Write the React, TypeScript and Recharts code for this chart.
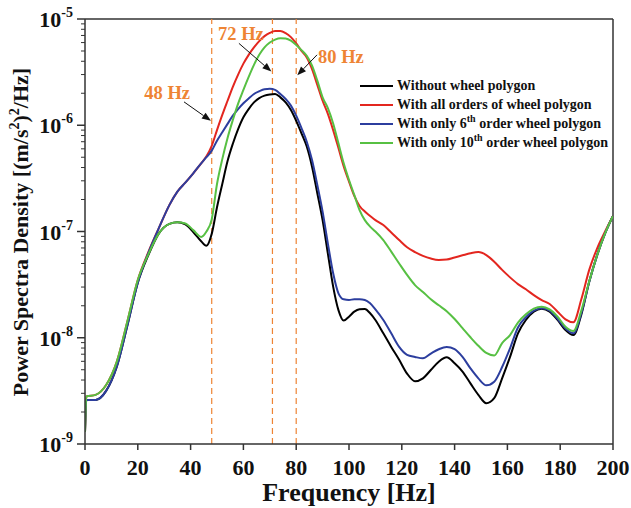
import { Line, LineChart, ReferenceLine, XAxis, YAxis } from "recharts";

const FONT = '"Liberation Serif", "Times New Roman", serif';
const ORANGE = "#EE8434";

// Frequency grid [Hz]
const FREQ = [
  0, 0.5, 4, 8, 12, 16, 20, 24, 28, 32, 35, 38, 41, 44, 46, 48, 50, 52, 54, 56,
  58, 60, 62, 64, 66, 68, 70, 72, 74, 76, 78, 80, 82, 84, 86, 88, 90, 92, 94, 96,
  98, 100, 102, 104, 106, 108, 110, 113, 116, 119, 122, 125, 128, 131, 134, 137, 140, 143, 146, 149,
  152, 155, 158, 161, 164, 167, 170, 173, 176, 179, 182, 185, 188, 191, 194, 197, 200,
];

// PSD [(m/s^2)^2/Hz]
const WITHOUT = [
  1.3e-9, 2.6e-9, 2.6e-9, 3.16e-9, 5.3e-9, 1.29e-8, 3.3e-8, 6.0e-8, 9.6e-8, 1.18e-7, 1.22e-7, 1.17e-7, 9.9e-8, 8.1e-8, 7.35e-8, 9.5e-8, 1.69e-7, 2.8e-7, 4.6e-7, 6.7e-7,
  9.2e-7, 1.19e-6, 1.42e-6, 1.64e-6, 1.8e-6, 1.9e-6, 1.95e-6, 1.97e-6, 1.83e-6, 1.64e-6, 1.39e-6, 1.1e-6, 8.4e-7, 6.3e-7, 4.07e-7, 2.29e-7, 1.28e-7, 6.2e-8, 3.03e-8, 1.82e-8,
  1.45e-8, 1.58e-8, 1.76e-8, 1.85e-8, 1.86e-8, 1.7e-8, 1.47e-8, 1.1e-8, 8.2e-9, 6.2e-9, 4.6e-9, 3.9e-9, 4.15e-9, 4.97e-9, 5.95e-9, 6.55e-9, 5.75e-9, 4.8e-9, 3.72e-9, 2.9e-9,
  2.42e-9, 2.7e-9, 4.15e-9, 6.6e-9, 1.1e-8, 1.47e-8, 1.76e-8, 1.87e-8, 1.76e-8, 1.47e-8, 1.18e-8, 1.06e-8, 1.65e-8, 3.37e-8, 6.0e-8, 9.6e-8, 1.4e-7,
];
const ALL_ORDERS = [
  1.3e-9, 2.8e-9, 2.9e-9, 3.59e-9, 5.9e-9, 1.41e-8, 3.5e-8, 6.4e-8, 1.08e-7, 1.78e-7, 2.37e-7, 2.88e-7, 3.53e-7, 4.38e-7, 5.1e-7, 6.4e-7, 9.0e-7, 1.25e-6, 1.7e-6, 2.3e-6,
  3.0e-6, 3.8e-6, 4.6e-6, 5.4e-6, 6.2e-6, 6.9e-6, 7.4e-6, 7.7e-6, 7.7e-6, 7.35e-6, 6.75e-6, 5.9e-6, 5.0e-6, 4.35e-6, 3.38e-6, 2.4e-6, 1.7e-6, 1.28e-6, 9.0e-7, 6.1e-7,
  4.1e-7, 2.95e-7, 2.16e-7, 1.74e-7, 1.54e-7, 1.4e-7, 1.28e-7, 1.15e-7, 9.8e-8, 8.3e-8, 7.1e-8, 6.4e-8, 5.9e-8, 5.57e-8, 5.4e-8, 5.45e-8, 5.7e-8, 5.97e-8, 6.24e-8, 6.4e-8,
  6.0e-8, 5.2e-8, 4.35e-8, 3.7e-8, 3.2e-8, 2.86e-8, 2.52e-8, 2.26e-8, 2.08e-8, 1.76e-8, 1.49e-8, 1.4e-8, 2.3e-8, 4.35e-8, 6.95e-8, 1.0e-7, 1.4e-7,
];
const ONLY_6TH = [
  1.3e-9, 2.6e-9, 2.6e-9, 3.16e-9, 5.3e-9, 1.29e-8, 3.3e-8, 6.3e-8, 1.08e-7, 1.78e-7, 2.37e-7, 2.88e-7, 3.53e-7, 4.38e-7, 5.0e-7, 5.77e-7, 7.16e-7, 8.6e-7, 1.03e-6, 1.23e-6,
  1.42e-6, 1.61e-6, 1.79e-6, 1.97e-6, 2.09e-6, 2.18e-6, 2.2e-6, 2.15e-6, 1.97e-6, 1.77e-6, 1.53e-6, 1.23e-6, 9.4e-7, 7.0e-7, 4.7e-7, 2.74e-7, 1.54e-7, 7.7e-8, 4.04e-8, 2.62e-8,
  2.3e-8, 2.27e-8, 2.3e-8, 2.3e-8, 2.27e-8, 2.11e-8, 1.85e-8, 1.47e-8, 1.1e-8, 8.2e-9, 6.9e-9, 6.6e-9, 6.4e-9, 7.1e-9, 7.8e-9, 8.2e-9, 7.8e-9, 6.6e-9, 5.15e-9, 4.15e-9,
  3.57e-9, 3.86e-9, 5.3e-9, 7.96e-9, 1.25e-8, 1.56e-8, 1.8e-8, 1.9e-8, 1.8e-8, 1.51e-8, 1.22e-8, 1.1e-8, 1.7e-8, 3.37e-8, 6.0e-8, 9.6e-8, 1.4e-7,
];
const ONLY_10TH = [
  1.3e-9, 2.8e-9, 2.9e-9, 3.59e-9, 5.9e-9, 1.41e-8, 3.5e-8, 6.1e-8, 9.6e-8, 1.18e-7, 1.22e-7, 1.19e-7, 1.03e-7, 8.9e-8, 1.0e-7, 1.3e-7, 2.8e-7, 4.8e-7, 7.6e-7, 1.12e-6,
  1.6e-6, 2.15e-6, 2.85e-6, 3.7e-6, 4.6e-6, 5.4e-6, 6.0e-6, 6.4e-6, 6.6e-6, 6.55e-6, 6.25e-6, 5.7e-6, 5.1e-6, 4.5e-6, 3.64e-6, 2.63e-6, 1.83e-6, 1.45e-6, 1.04e-6, 6.76e-7,
  4.38e-7, 3.05e-7, 2.21e-7, 1.59e-7, 1.28e-7, 1.11e-7, 1.0e-7, 8.3e-8, 6.46e-8, 5.0e-8, 3.9e-8, 3.13e-8, 2.7e-8, 2.3e-8, 2.02e-8, 1.78e-8, 1.5e-8, 1.23e-8, 1.01e-8, 8.4e-9,
  7.2e-9, 6.8e-9, 8.9e-9, 1.06e-8, 1.39e-8, 1.66e-8, 1.88e-8, 1.96e-8, 1.85e-8, 1.58e-8, 1.27e-8, 1.16e-8, 1.8e-8, 3.4e-8, 6.0e-8, 9.6e-8, 1.4e-7,
];

const X_TICKS = [0, 20, 40, 60, 80, 100, 120, 140, 160, 180, 200];
const Y_MAJOR = [1e-9, 1e-8, 1e-7, 1e-6, 1e-5];
const Y_TICKS = Y_MAJOR.flatMap((d, i) =>
  i < Y_MAJOR.length - 1 ? [d, 2 * d, 3 * d, 4 * d, 5 * d, 6 * d, 7 * d, 8 * d, 9 * d] : [d]
);
const MARKED_FREQ = [48, 71, 80];

const SERIES = [
  { key: "without", color: "#000000", values: WITHOUT },
  { key: "all", color: "#E3261F", values: ALL_ORDERS },
  { key: "sixth", color: "#2C3E9E", values: ONLY_6TH },
  { key: "tenth", color: "#57C043", values: ONLY_10TH },
];

const data = FREQ.map((f, i) => {
  const row: Record<string, number> = { f };
  SERIES.forEach((s) => (row[s.key] = s.values[i]));
  return row;
});

// arrows: [start, end] in data coords, with label placement
const ARROWS = [
  { text: "48 Hz", from: { x: 37.5, y: 1.66e-6 }, to: { x: 47.7, y: 1.1e-6 }, dx: 6, dy: -3, anchor: "end" },
  { text: "72 Hz", from: { x: 58.3, y: 5.9e-6 }, to: { x: 70.6, y: 3.2e-6 }, dx: 2, dy: -3, anchor: "middle" },
  { text: "80 Hz", from: { x: 87.9, y: 4.6e-6 }, to: { x: 80.4, y: 2.95e-6 }, dx: 1, dy: 8, anchor: "start" },
];

function XTick({ x, y, payload }: any) {
  return (
    <g>
      <line x1={x} y1={y} x2={x} y2={y + 6} stroke="#333" strokeWidth={1.5} />
      <text x={x} y={y + 31} textAnchor="middle" fontFamily={FONT} fontWeight="bold" fontSize={22} fill="#111">
        {payload.value}
      </text>
    </g>
  );
}

function YTick({ x, y, payload }: any) {
  const lg = Math.log10(payload.value);
  const major = Math.abs(lg - Math.round(lg)) < 1e-6;
  if (!major) return <line x1={x} y1={y} x2={x - 4} y2={y} stroke="#333" strokeWidth={1} />;
  return (
    <g>
      <line x1={x} y1={y} x2={x - 8} y2={y} stroke="#333" strokeWidth={1.5} />
      <text x={x - 12} y={y + 8} textAnchor="end" fontFamily={FONT} fontWeight="bold" fontSize={22} fill="#111">
        10
        <tspan dy={-10} fontSize={14}>
          {Math.round(lg)}
        </tspan>
      </text>
    </g>
  );
}

function arrowShape(a: (typeof ARROWS)[number]) {
  return (p: any) => {
    const { x1, y1, x2, y2 } = p;
    const ang = Math.atan2(y2 - y1, x2 - x1);
    const L = 9;
    const W = 3.5;
    const bx = x2 - L * Math.cos(ang);
    const by = y2 - L * Math.sin(ang);
    const nx = -Math.sin(ang) * W;
    const ny = Math.cos(ang) * W;
    return (
      <g>
        <line x1={x1} y1={y1} x2={bx} y2={by} stroke="#111" strokeWidth={1} />
        <polygon points={`${x2},${y2} ${bx + nx},${by + ny} ${bx - nx},${by - ny}`} fill="#111" />
        <text
          x={x1 + a.dx}
          y={y1 + a.dy}
          textAnchor={a.anchor}
          fontFamily={FONT}
          fontWeight="bold"
          fontSize={18.5}
          fill={ORANGE}
        >
          {a.text}
        </text>
      </g>
    );
  };
}

function XTitle() {
  return (
    <text x={349} y={501} textAnchor="middle" fontFamily={FONT} fontWeight="bold" fontSize={26} fill="#111">
      Frequency [Hz]
    </text>
  );
}

function YTitle() {
  return (
    <text
      transform="translate(28,232) rotate(-90)"
      textAnchor="middle"
      fontFamily={FONT}
      fontWeight="bold"
      fontSize={22}
      fill="#111"
    >
      Power Spectra Density [(m/s
      <tspan dy={-9} fontSize={14}>2</tspan>
      <tspan dy={9}>)</tspan>
      <tspan dy={-9} fontSize={14}>2</tspan>
      <tspan dy={9}>/Hz]</tspan>
    </text>
  );
}

const LEGEND_LABELS = [
  <>Without wheel polygon</>,
  <>With all orders of wheel polygon</>,
  <>
    With only 6<sup style={{ fontSize: 10, lineHeight: 0 }}>th</sup> order wheel polygon
  </>,
  <>
    With only 10<sup style={{ fontSize: 10, lineHeight: 0 }}>th</sup> order wheel polygon
  </>,
];

function LegendBox() {
  return (
    <div
      style={{
        position: "absolute",
        left: 360,
        top: 76,
        fontFamily: FONT,
        fontWeight: "bold",
        fontSize: 14,
        color: "#111",
      }}
    >
      {SERIES.map((s, i) => (
        <div key={s.key} style={{ display: "flex", alignItems: "center", height: 19, whiteSpace: "nowrap" }}>
          <span style={{ display: "inline-block", width: 33, height: 2, background: s.color, marginRight: 4 }} />
          <span>{LEGEND_LABELS[i]}</span>
        </div>
      ))}
    </div>
  );
}

export default function App() {
  return (
    <div style={{ position: "absolute", left: 0, top: 0, width: 631, height: 508, background: "#fff" }}>
      <LineChart width={631} height={508} data={data} margin={{ top: 19, right: 18, bottom: 0, left: 0 }}>
        <XAxis
          dataKey="f"
          type="number"
          domain={[0, 200]}
          ticks={X_TICKS}
          interval={0}
          height={64}
          tickSize={0}
          tickMargin={0}
          tickLine={false}
          tick={<XTick />}
          axisLine={{ stroke: "#333", strokeWidth: 1.5 }}
          allowDataOverflow
          label={<XTitle />}
        />
        <YAxis
          type="number"
          scale="log"
          domain={[1e-9, 1e-5]}
          ticks={Y_TICKS}
          interval={0}
          width={85}
          tickSize={0}
          tickMargin={0}
          tickLine={false}
          tick={<YTick />}
          axisLine={{ stroke: "#333", strokeWidth: 1.5 }}
          allowDataOverflow
          label={<YTitle />}
        />
        <ReferenceLine y={1e-5} stroke="#333" strokeWidth={1.5} />
        <ReferenceLine x={200} stroke="#333" strokeWidth={1.5} />
        {MARKED_FREQ.map((f) => (
          <ReferenceLine key={f} x={f} stroke={ORANGE} strokeWidth={1.2} strokeDasharray="6 4" />
        ))}
        {SERIES.map((s) => (
          <Line
            key={s.key}
            type="monotone"
            dataKey={s.key}
            stroke={s.color}
            strokeWidth={2}
            dot={false}
            isAnimationActive={false}
          />
        ))}
        {ARROWS.map((a) => (
          <ReferenceLine key={a.text} segment={[a.from, a.to]} shape={arrowShape(a)} />
        ))}
      </LineChart>
      <LegendBox />
    </div>
  );
}
